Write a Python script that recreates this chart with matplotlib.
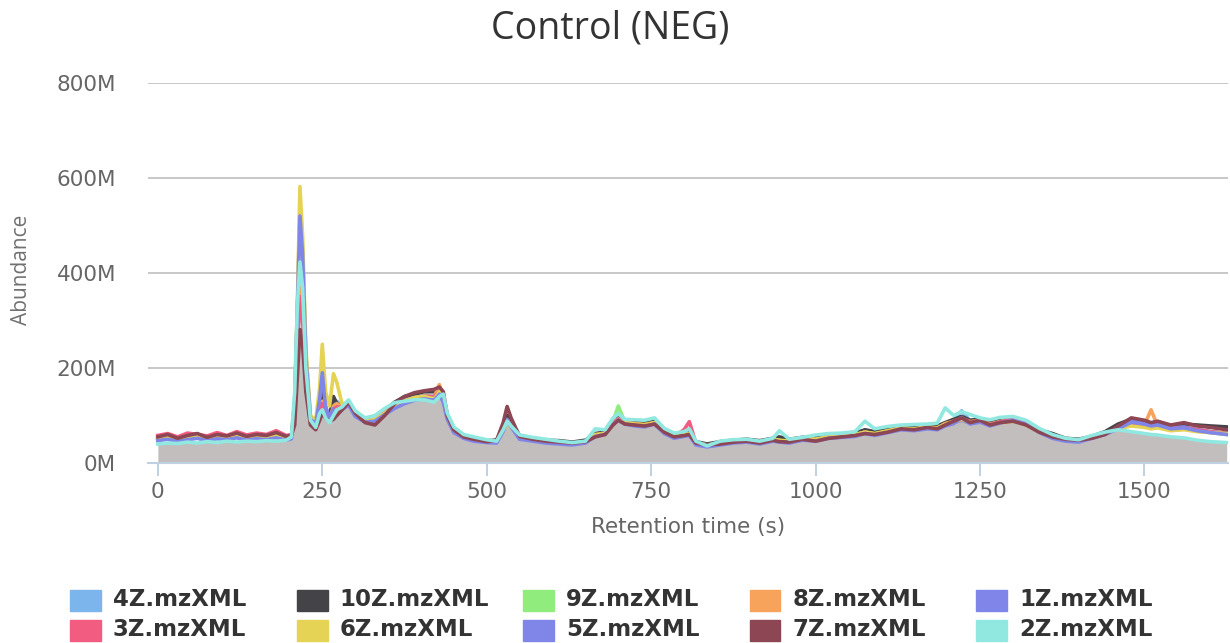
import matplotlib.pyplot as plt
from matplotlib.patches import Rectangle
import numpy as np

# ---------------- DATA (abundance in millions) ----------------
rt = [0, 15, 30, 45, 60, 75, 90, 105, 120, 135,
      150, 165, 180, 195, 203, 208, 212, 216, 220, 225,
      232, 240, 246, 250, 255, 261, 267, 272, 280, 290,
      300, 315, 330, 345, 360, 375, 390, 405, 420, 428,
      434, 440, 450, 465, 480, 500, 515, 525, 531, 537,
      550, 570, 590, 610, 630, 650, 665, 680, 692, 700,
      710, 725, 740, 755, 770, 785, 800, 808, 818, 835,
      855, 875, 895, 915, 935, 945, 960, 980, 1000, 1020,
      1040, 1060, 1075, 1090, 1110, 1130, 1150, 1170, 1185, 1197,
      1210, 1222, 1235, 1250, 1265, 1280, 1300, 1320, 1340, 1360,
      1380, 1400, 1420, 1440, 1460, 1480, 1500, 1510, 1520, 1540,
      1560, 1580, 1600, 1625]

s4z = [50, 53, 48, 52, 55, 50, 54, 52, 56, 51,
       54, 52, 56, 51, 54, 110, 260, 400, 350, 190,
       85, 78, 110, 140, 105, 95, 115, 130, 120, 130,
       105, 90, 92, 108, 122, 132, 138, 142, 140, 152,
       135, 98, 70, 56, 50, 46, 46, 70, 92, 80,
       54, 50, 46, 44, 42, 45, 60, 64, 86, 94,
       86, 84, 82, 86, 68, 56, 60, 62, 42, 37,
       42, 46, 48, 44, 50, 48, 46, 52, 50, 56,
       58, 60, 66, 62, 68, 74, 72, 76, 74, 84,
       90, 110, 88, 90, 82, 88, 94, 86, 68, 56,
       50, 48, 56, 64, 74, 86, 82, 78, 80, 72,
       75, 70, 66, 62]

s10z = [52, 56, 50, 55, 58, 52, 57, 55, 60, 54,
        57, 56, 60, 55, 57, 110, 250, 360, 330, 190,
        85, 80, 120, 150, 110, 100, 140, 125, 120, 130,
        108, 90, 90, 110, 128, 140, 145, 150, 150, 158,
        140, 100, 72, 57, 52, 47, 48, 75, 100, 85,
        58, 52, 48, 47, 44, 48, 62, 65, 85, 95,
        88, 86, 84, 88, 70, 58, 62, 64, 45, 40,
        45, 48, 50, 47, 52, 55, 50, 54, 55, 58,
        60, 63, 70, 66, 72, 78, 76, 80, 78, 85,
        92, 98, 90, 93, 86, 90, 95, 85, 70, 62,
        52, 50, 56, 66, 82, 92, 86, 80, 84, 78,
        82, 80, 78, 76]

s9z = [49, 52, 47, 51, 54, 49, 53, 51, 55, 50,
       53, 51, 55, 50, 53, 100, 240, 380, 330, 180,
       85, 76, 100, 120, 100, 90, 110, 118, 118, 128,
       102, 88, 90, 106, 120, 130, 136, 140, 138, 150,
       132, 96, 68, 55, 49, 45, 45, 68, 90, 78,
       53, 49, 45, 43, 41, 44, 58, 62, 88, 120,
       86, 82, 80, 84, 66, 55, 59, 61, 41, 36,
       41, 45, 47, 43, 49, 47, 45, 51, 49, 55,
       57, 59, 65, 61, 67, 73, 71, 75, 73, 82,
       87, 92, 86, 89, 81, 86, 92, 84, 66, 54,
       49, 47, 55, 62, 72, 82, 78, 74, 76, 70,
       72, 68, 64, 60]

s8z = [51, 54, 49, 53, 56, 51, 55, 53, 57, 52,
       55, 53, 57, 52, 55, 105, 250, 390, 340, 185,
       86, 78, 105, 130, 102, 92, 120, 125, 118, 128,
       103, 89, 91, 107, 121, 131, 137, 141, 139, 165,
       134, 97, 69, 55, 49, 45, 45, 69, 91, 79,
       53, 49, 45, 43, 41, 44, 59, 63, 85, 93,
       85, 83, 81, 85, 67, 55, 59, 61, 41, 36,
       41, 45, 47, 43, 49, 47, 45, 51, 49, 55,
       57, 59, 65, 61, 67, 73, 71, 75, 73, 83,
       88, 94, 87, 90, 82, 87, 93, 85, 67, 55,
       49, 47, 55, 63, 73, 84, 80, 112, 78, 72,
       73, 69, 65, 61]

s1z = [48, 52, 46, 51, 54, 49, 53, 51, 55, 50,
       53, 51, 55, 50, 53, 130, 320, 540, 450, 230,
       95, 85, 140, 200, 120, 95, 115, 115, 115, 125,
       100, 88, 90, 105, 118, 128, 135, 138, 135, 148,
       130, 95, 66, 54, 48, 44, 44, 68, 92, 78,
       52, 48, 44, 42, 40, 43, 58, 62, 84, 92,
       84, 80, 78, 84, 64, 54, 58, 60, 40, 35,
       40, 44, 46, 42, 48, 46, 44, 50, 48, 54,
       56, 58, 64, 60, 66, 72, 70, 74, 72, 80,
       85, 90, 84, 88, 80, 86, 92, 84, 66, 54,
       48, 46, 54, 62, 74, 88, 84, 80, 82, 74,
       76, 70, 66, 62]

s3z = [58, 62, 55, 63, 60, 57, 64, 58, 66, 59,
       63, 60, 68, 58, 60, 100, 230, 350, 300, 170,
       85, 75, 100, 125, 100, 90, 110, 118, 118, 128,
       104, 88, 90, 106, 120, 130, 136, 140, 140, 150,
       132, 96, 68, 56, 50, 46, 45, 68, 90, 78,
       53, 49, 45, 43, 41, 44, 58, 62, 84, 92,
       84, 82, 80, 84, 66, 56, 70, 87, 42, 36,
       41, 45, 47, 43, 49, 47, 45, 51, 49, 55,
       57, 59, 65, 61, 67, 73, 71, 75, 73, 82,
       86, 92, 86, 89, 81, 86, 92, 84, 66, 54,
       49, 47, 55, 62, 72, 84, 80, 76, 78, 72,
       74, 70, 66, 62]

s6z = [50, 54, 48, 53, 56, 50, 55, 53, 57, 52,
       55, 53, 57, 52, 55, 130, 330, 582, 480, 240,
       100, 90, 160, 250, 150, 120, 188, 170, 125, 125,
       100, 88, 92, 105, 120, 130, 138, 140, 135, 150,
       130, 95, 68, 56, 50, 46, 45, 65, 85, 75,
       55, 50, 46, 44, 42, 45, 60, 62, 82, 90,
       85, 82, 80, 85, 66, 56, 60, 62, 43, 38,
       42, 46, 48, 44, 50, 48, 46, 52, 50, 55,
       57, 60, 65, 62, 68, 74, 72, 76, 74, 82,
       86, 92, 85, 88, 80, 84, 88, 80, 64, 55,
       50, 48, 55, 62, 72, 78, 75, 72, 74, 68,
       70, 66, 64, 62]

s5z = [47, 50, 45, 49, 52, 47, 51, 49, 53, 48,
       51, 49, 53, 48, 51, 125, 310, 520, 440, 220,
       92, 82, 135, 190, 115, 92, 110, 112, 112, 122,
       98, 86, 88, 102, 115, 125, 132, 135, 132, 145,
       128, 92, 64, 52, 46, 43, 42, 66, 90, 76,
       50, 46, 42, 40, 38, 42, 56, 60, 82, 90,
       82, 78, 76, 82, 62, 52, 56, 58, 38, 34,
       38, 42, 44, 40, 46, 44, 42, 48, 46, 52,
       54, 56, 62, 58, 64, 70, 68, 72, 70, 78,
       83, 96, 82, 86, 78, 84, 90, 82, 64, 52,
       46, 44, 52, 60, 72, 86, 82, 78, 80, 72,
       74, 68, 64, 60]

s7z = [55, 60, 52, 58, 62, 54, 60, 57, 63, 56,
       60, 58, 64, 56, 58, 80, 180, 281, 250, 150,
       80, 70, 90, 105, 95, 88, 92, 100, 112, 128,
       105, 85, 80, 100, 125, 140, 148, 152, 155, 160,
       150, 100, 70, 55, 50, 45, 48, 85, 119, 95,
       56, 50, 46, 44, 42, 45, 55, 60, 80, 90,
       82, 80, 78, 82, 65, 55, 58, 60, 42, 38,
       40, 44, 46, 42, 48, 45, 44, 50, 46, 52,
       55, 58, 62, 60, 65, 72, 70, 75, 72, 80,
       88, 95, 85, 90, 80, 85, 88, 80, 65, 55,
       50, 48, 52, 60, 78, 95, 90, 85, 88, 80,
       85, 78, 75, 70]

s2z = [40, 42, 41, 44, 42, 45, 43, 46, 44, 46,
       45, 47, 46, 48, 55, 150, 330, 423, 370, 200,
       90, 75, 105, 112, 95, 85, 100, 112, 118, 133,
       110, 95, 100, 115, 127, 130, 133, 133, 128, 140,
       145, 105, 76, 60, 55, 49, 46, 70, 88, 78,
       59, 54, 50, 46, 43, 46, 72, 70, 95, 104,
       92, 91, 90, 95, 73, 63, 66, 72, 46, 36,
       46, 49, 50, 46, 52, 68, 50, 54, 59, 62,
       63, 66, 88, 72, 77, 80, 81, 82, 84, 116,
       100, 108, 102, 95, 91, 96, 98, 90, 73, 60,
       52, 49, 58, 65, 70, 66, 62, 60, 59, 55,
       53, 48, 45, 43]

names = ['4Z.mzXML', '10Z.mzXML', '9Z.mzXML', '8Z.mzXML', '1Z.mzXML',
         '3Z.mzXML', '6Z.mzXML', '5Z.mzXML', '7Z.mzXML', '2Z.mzXML']
series = [s4z, s10z, s9z, s8z, s1z, s3z, s6z, s5z, s7z, s2z]
colors = ['#7cb5ec', '#434348', '#90ed7d', '#f7a35c', '#8085e9',
          '#f15c80', '#e4d354', '#8085e8', '#8d4653', '#91e8e1']

# ---------------- PLOT ----------------
W, H = 1230, 643
fig = plt.figure(figsize=(W / 100, H / 100), dpi=100)
ax = fig.add_axes([148 / W, 1 - 463 / H, 1080 / W, 380 / H])

# grey area under the lowest trace
floor = np.min(np.array(series), axis=0)
ax.fill_between(rt, 0, floor, color='#c2bebe', lw=0, zorder=2)

for i, (vals, c) in enumerate(zip(series, colors)):
    ax.plot(rt, vals, color=c, lw=2.6, solid_joinstyle='round', zorder=3 + i)

ax.set_xlim(-15, 1627)
ax.set_ylim(0, 800)
ax.set_xticks([0, 250, 500, 750, 1000, 1250, 1500])
ax.set_yticks([0, 200, 400, 600, 800])
ax.set_yticklabels([f'{v}M' for v in [0, 200, 400, 600, 800]])

ax.grid(axis='y', color='#c8c8c8', lw=1.4, zorder=0)
ax.set_axisbelow(True)
for s in ['top', 'right', 'left']:
    ax.spines[s].set_visible(False)
ax.spines['bottom'].set_color('#c0d0e0')
ax.spines['bottom'].set_linewidth(1.5)
ax.spines['bottom'].set_zorder(20)

ax.tick_params(axis='x', colors='#c0d0e0', length=9.5, width=1.4, pad=4,
               labelcolor='#666666', labelsize=15.5)
ax.tick_params(axis='y', length=0, pad=23, labelcolor='#666666', labelsize=15.5)

fig.text(610 / W, 1 - 28 / H, 'Control (NEG)', ha='center', va='center',
         fontsize=27, color='#333333', family=['Open Sans', 'DejaVu Sans'])
fig.text(22 / W, 1 - 270 / H, 'Abundance', ha='center', va='center', rotation=90,
         fontsize=15, color='#707070', family=['Open Sans', 'DejaVu Sans'])
fig.text(688 / W, 1 - 527 / H, 'Retention time (s)', ha='center', va='center',
         fontsize=15.5, color='#666666')

# legend, two rows of five
for i, (name, c) in enumerate(zip(names, colors)):
    row, col = divmod(i, 5)
    x0 = 70 + col * 226.5
    yc = 600 + row * 30
    fig.patches.append(Rectangle((x0 / W, 1 - (yc + 10.5) / H), 31 / W, 21 / H,
                                 transform=fig.transFigure, color=c))
    fig.text((x0 + 43) / W, 1 - yc / H, name, ha='left', va='center',
             fontsize=16.5, fontweight='bold', color='#333333')

fig.savefig('out.png', dpi=100)
